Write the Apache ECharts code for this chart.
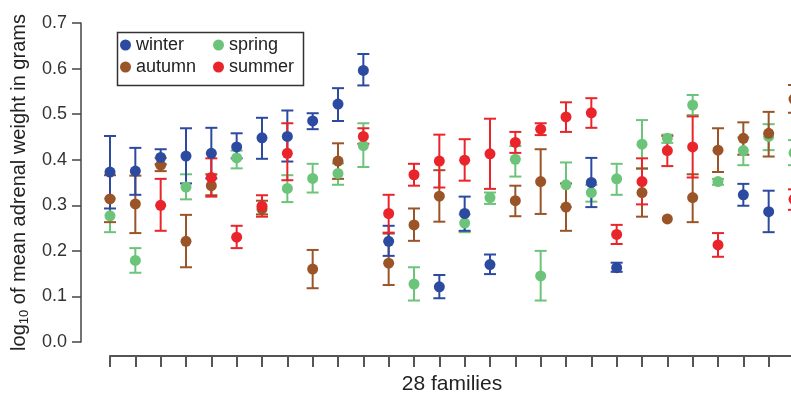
<!DOCTYPE html>
<html>
<head>
<meta charset="utf-8">
<script src="https://cdn.jsdelivr.net/npm/echarts@6/dist/echarts.min.js"></script>
<style>
html,body{margin:0;padding:0;background:#fff;}
#chart{width:791px;height:397px;}
</style>
</head>
<body>
<div id="chart"></div>
<script>
// family index (x positions on the axis)
const families = [1,2,3,4,5,6,7,8,9,10,11,12,13,14,15,16,17,18,19,20,21,22,23,24,25,26,27,28];
const yTicks = [0,0.1,0.2,0.3,0.4,0.5,0.6,0.7];
const seasons = ['winter','spring','autumn','summer'];

const winterMean = [0.373,0.375,0.405,0.408,0.414,0.428,0.448,0.451,0.485,0.522,0.596,0.221,null,0.121,0.282,0.170,null,null,null,0.350,0.163,null,null,null,null,0.323,0.286,null];
const winterLow  = [0.293,0.323,0.390,0.348,0.359,0.403,0.402,0.396,0.467,0.485,0.563,0.189,null,0.096,0.244,0.149,null,null,null,0.296,0.154,null,null,null,null,0.299,0.241,null];
const winterHigh = [0.452,0.426,0.423,0.469,0.470,0.458,0.492,0.508,0.502,0.557,0.632,0.255,null,0.147,0.319,0.192,null,null,null,0.404,0.174,null,null,null,null,0.347,0.332,null];

const springMean = [0.277,0.179,null,0.340,null,0.404,null,0.337,0.359,0.370,0.431,null,0.127,null,0.261,0.317,0.401,0.145,0.345,0.328,0.358,0.434,0.447,0.520,0.352,0.420,0.451,0.415];
const springLow  = [0.241,0.152,null,0.313,null,0.381,null,0.307,0.328,0.345,0.384,null,0.091,null,0.241,0.303,0.363,0.091,0.296,0.308,0.323,0.380,0.437,0.498,0.345,0.388,0.421,0.388];
const springHigh = [0.315,0.206,null,0.368,null,0.420,null,0.366,0.391,0.392,0.480,null,0.164,null,0.280,0.328,0.430,0.200,0.394,0.345,0.391,0.487,0.455,0.542,0.358,0.449,0.478,0.443];

const autumnMean = [0.314,0.303,0.388,0.221,0.343,null,0.292,null,0.160,0.397,null,0.173,0.257,0.320,null,null,0.310,0.352,0.296,null,null,0.328,0.270,0.317,0.421,0.447,0.458,0.533];
const autumnLow  = [0.263,0.239,0.375,0.164,0.322,null,0.280,null,0.118,0.358,null,0.125,0.222,0.264,null,null,0.276,0.281,0.244,null,null,0.275,null,0.263,0.373,0.411,0.407,0.503];
const autumnHigh = [0.366,0.365,0.404,0.279,0.368,null,0.310,null,0.202,0.436,null,0.238,0.293,0.377,null,null,0.343,0.423,0.348,null,null,0.381,null,0.368,0.469,0.482,0.505,0.564];

const summerMean = [null,null,0.300,null,0.361,0.230,0.298,0.414,null,null,0.451,0.282,0.367,0.397,0.399,0.413,0.438,0.467,0.494,0.503,0.236,0.352,0.420,0.428,0.213,null,null,0.313];
const summerLow  = [null,null,0.244,null,0.319,0.206,0.275,0.355,null,null,0.435,0.240,0.343,0.339,0.354,0.336,0.415,0.454,0.461,0.470,0.215,0.302,0.386,0.361,0.187,null,null,0.290];
const summerHigh = [null,null,0.358,null,0.403,0.255,0.322,0.480,null,null,0.469,0.323,0.391,0.455,0.445,0.490,0.461,0.480,0.526,0.535,0.257,0.403,0.452,0.495,0.239,null,null,0.335];

const colors = {winter:'#2c4a9f', spring:'#6cc47a', autumn:'#9a5427', summer:'#e9252b'};
const seriesData = {
  winter:[winterMean,winterLow,winterHigh],
  spring:[springMean,springLow,springHigh],
  autumn:[autumnMean,autumnLow,autumnHigh],
  summer:[summerMean,summerLow,summerHigh]
};

const FONT = "'Liberation Sans', Arial, Helvetica, sans-serif";

function errRender(color){
  return function(params, api){
    const x = api.value(0), lo = api.value(1), hi = api.value(2);
    const pLo = api.coord([x, lo]);
    const pHi = api.coord([x, hi]);
    const hw = 6;
    const style = {stroke: color, lineWidth: 2, fill: null};
    return {
      type:'group',
      children:[
        {type:'line', shape:{x1:pLo[0], y1:pLo[1], x2:pHi[0], y2:pHi[1]}, style},
        {type:'line', shape:{x1:pLo[0]-hw, y1:pLo[1], x2:pLo[0]+hw, y2:pLo[1]}, style},
        {type:'line', shape:{x1:pHi[0]-hw, y1:pHi[1], x2:pHi[0]+hw, y2:pHi[1]}, style}
      ]
    };
  };
}

const drawOrder = ['spring','autumn','winter','summer'];
const series = [];
drawOrder.forEach(function(s){
  const [m, lo, hi] = seriesData[s];
  const errData = [];
  const ptData = [];
  families.forEach(function(f, i){
    if (m[i] != null) ptData.push([f, m[i]]);
    if (lo[i] != null && hi[i] != null) errData.push([f, lo[i], hi[i]]);
  });
  series.push({
    name: s + '_err', type:'custom', renderItem: errRender(colors[s]),
    data: errData, clip:false, silent:true, z:2,
    encode:{x:0, y:[1,2]}
  });
  series.push({
    name: s, type:'scatter', data: ptData, symbol:'circle', symbolSize: 11,
    itemStyle:{color: colors[s], opacity:1}, z:3, clip:false
  });
});

const chart = echarts.init(document.getElementById('chart'), null, {renderer:'canvas'});
chart.setOption({
  animation:false,
  backgroundColor:'#fff',
  color: seasons.map(s => colors[s]),
  grid:{left:110, top:23, width:684, height:319, containLabel:false, outerBoundsMode:'none'},
  xAxis:{
    type:'value', min:1, max:28, interval:1, offset:14,
    axisLine:{show:true, onZero:false, lineStyle:{color:'#555', width:2}},
    axisTick:{show:true, length:11, lineStyle:{color:'#555', width:2}},
    axisLabel:{show:false},
    splitLine:{show:false},
    name:'28 families', nameLocation:'middle', nameGap:18,
    nameTextStyle:{fontSize:21, color:'#222', fontFamily:FONT}
  },
  yAxis:{
    type:'value', min:yTicks[0], max:yTicks[yTicks.length-1], interval:0.1, offset:29,
    axisLine:{show:true, onZero:false, lineStyle:{color:'#444', width:1.5}},
    axisTick:{show:true, length:9, lineStyle:{color:'#444', width:1.5}},
    axisLabel:{fontSize:18, color:'#333', fontFamily:FONT, margin:14,
      formatter:function(v){return v.toFixed(1);}},
    splitLine:{show:false},
    name:'{a|log}{s|10}{a| of mean adrenal weight in grams}',
    nameLocation:'middle', nameGap:50, nameRotate:90,
    nameTextStyle:{color:'#222', fontFamily:FONT,
      rich:{
        a:{fontSize:20, lineHeight:24, color:'#222', fontFamily:FONT},
        s:{fontSize:13, lineHeight:13, verticalAlign:'bottom', color:'#222', fontFamily:FONT}
      }}
  },
  legend:[
    {data:['winter','autumn'], orient:'vertical', left:120, top:36, padding:0, itemWidth:11, itemHeight:11,
     itemGap:4, icon:'circle', textStyle:{fontSize:18, lineHeight:18, color:'#222', fontFamily:FONT}, selectedMode:false},
    {data:['spring','summer'], orient:'vertical', left:213, top:36, padding:0, itemWidth:11, itemHeight:11,
     itemGap:4, icon:'circle', textStyle:{fontSize:18, lineHeight:18, color:'#222', fontFamily:FONT}, selectedMode:false}
  ],
  graphic:[{
    type:'rect', left:115, top:30, z:10, silent:true,
    shape:{x:0, y:0, width:186, height:53},
    style:{fill:null, stroke:'#333', lineWidth:1.5}
  }],
  series: series
});
</script>
</body>
</html>
